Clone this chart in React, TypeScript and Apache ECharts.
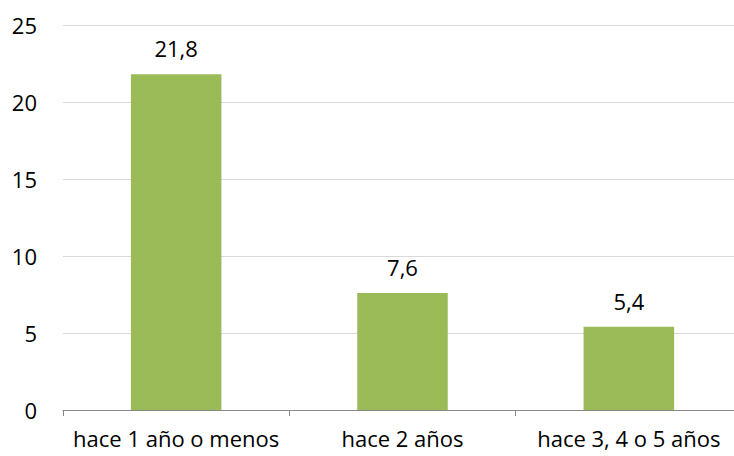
import React, { useEffect, useRef } from "react";
import * as echarts from "echarts";

const categories = ["hace 1 año o menos", "hace 2 años", "hace 3, 4 o 5 años"];
const values = [21.8, 7.6, 5.4];
const yTicks = { min: 0, max: 25, interval: 5 };

export default function App() {
  const ref = useRef<HTMLDivElement>(null);
  useEffect(() => {
    document.body.style.margin = "0";
    document.body.style.overflow = "hidden";
    const chart = echarts.init(ref.current!, null, { renderer: "svg" });
    const font = "Open Sans, Liberation Sans, sans-serif";
    chart.setOption({
      animation: false,
      grid: { left: 63, right: 8, top: 25, bottom: 46, containLabel: false },
      xAxis: {
        type: "category",
        data: categories,
        axisLine: { lineStyle: { color: "#898989", width: 1 } },
        axisTick: { show: true, length: 6, lineStyle: { color: "#898989" } },
        axisLabel: { color: "#000", fontSize: 22, fontFamily: font, margin: 17, interval: 0 },
      },
      yAxis: {
        type: "value",
        min: yTicks.min,
        max: yTicks.max,
        interval: yTicks.interval,
        axisLine: { show: false },
        axisTick: { show: false },
        splitLine: { lineStyle: { color: "#D9D9D9", width: 1 } },
        axisLabel: { color: "#000", fontSize: 22, fontFamily: font, margin: 26 },
      },
      series: [
        {
          type: "bar",
          data: values,
          barWidth: "40%",
          itemStyle: { color: "#9BBB59" },
          label: {
            show: true,
            position: "top",
            distance: 15,
            color: "#000",
            fontSize: 22,
            fontFamily: font,
            formatter: (p: any) => String(p.value).replace(".", ","),
          },
        },
      ],
    });
    return () => chart.dispose();
  }, []);
  return <div ref={ref} style={{ width: 750, height: 456 }} />;
}
